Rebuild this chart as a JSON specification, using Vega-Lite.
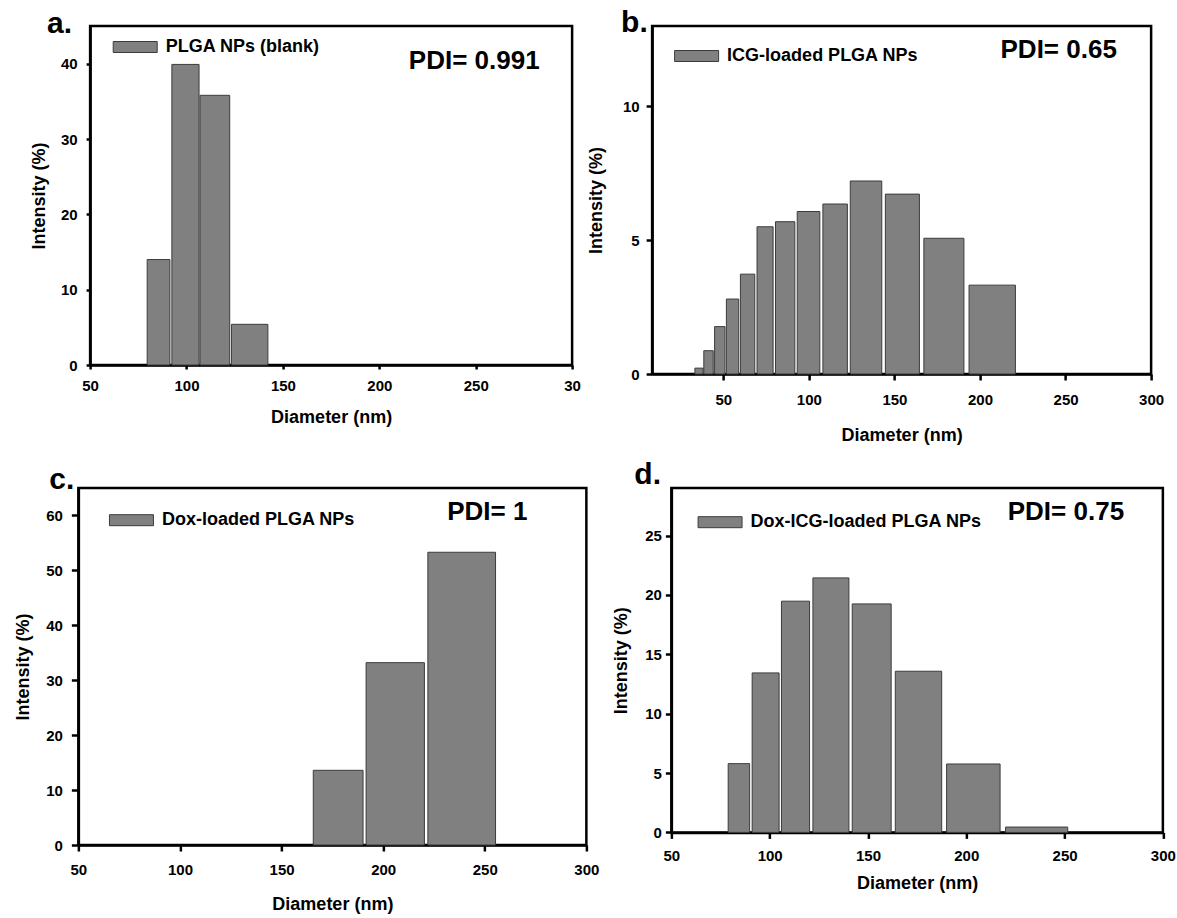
{
  "$schema": "https://vega.github.io/schema/vega-lite/v6.json",
  "background": "white",
  "padding": {"left": 13, "top": 6, "right": 3, "bottom": 3},
  "config": {
    "font": "Liberation Sans",
    "view": {"stroke": "black", "strokeWidth": 2.5},
    "axis": {
      "grid": false, "domainColor": "black", "domainWidth": 2.5,
      "tickColor": "black", "tickWidth": 2.5,
      "labelFont": "Liberation Sans", "labelFontSize": 15, "labelFontWeight": "bold", "labelColor": "black",
      "labelFlush": false, "labelOverlap": false,
      "titleFont": "Liberation Sans", "titleFontSize": 18, "titleFontWeight": "bold", "titleColor": "black"
    },
    "legend": {
      "symbolType": "M-1,-0.25H1V0.25H-1Z", "symbolSize": 1936,
      "symbolStrokeColor": "#3c3c3c", "symbolStrokeWidth": 1, "symbolOpacity": 1,
      "labelFont": "Liberation Sans", "labelFontSize": 18, "labelFontWeight": "bold", "labelColor": "black",
      "labelOffset": 8, "padding": 0, "labelLimit": 400
    },
    "title": {"font": "Liberation Sans", "fontSize": 30, "fontWeight": "bold", "color": "black", "anchor": "start", "frame": "group", "baseline": "alphabetic"}
  },
  "datasets": {
    "a": [
      {"from": 79.6, "to": 91.4, "intensity": 14.0, "sample": "PLGA NPs (blank)"},
      {"from": 92.4, "to": 106.5, "intensity": 39.9, "sample": "PLGA NPs (blank)"},
      {"from": 107.0, "to": 122.4, "intensity": 35.8, "sample": "PLGA NPs (blank)"},
      {"from": 123.3, "to": 142.2, "intensity": 5.4, "sample": "PLGA NPs (blank)"}
    ],
    "b": [
      {"from": 33.4, "to": 38.2, "intensity": 0.22, "sample": "ICG-loaded PLGA NPs"},
      {"from": 38.6, "to": 44.1, "intensity": 0.87, "sample": "ICG-loaded PLGA NPs"},
      {"from": 44.9, "to": 51.0, "intensity": 1.77, "sample": "ICG-loaded PLGA NPs"},
      {"from": 51.8, "to": 59.0, "intensity": 2.8, "sample": "ICG-loaded PLGA NPs"},
      {"from": 60.0, "to": 68.4, "intensity": 3.73, "sample": "ICG-loaded PLGA NPs"},
      {"from": 69.7, "to": 79.1, "intensity": 5.5, "sample": "ICG-loaded PLGA NPs"},
      {"from": 80.5, "to": 91.8, "intensity": 5.69, "sample": "ICG-loaded PLGA NPs"},
      {"from": 93.2, "to": 106.4, "intensity": 6.07, "sample": "ICG-loaded PLGA NPs"},
      {"from": 108.2, "to": 122.5, "intensity": 6.35, "sample": "ICG-loaded PLGA NPs"},
      {"from": 124.2, "to": 142.6, "intensity": 7.21, "sample": "ICG-loaded PLGA NPs"},
      {"from": 144.7, "to": 164.6, "intensity": 6.72, "sample": "ICG-loaded PLGA NPs"},
      {"from": 167.2, "to": 190.6, "intensity": 5.07, "sample": "ICG-loaded PLGA NPs"},
      {"from": 193.6, "to": 220.7, "intensity": 3.32, "sample": "ICG-loaded PLGA NPs"}
    ],
    "c": [
      {"from": 165.6, "to": 190.1, "intensity": 13.6, "sample": "Dox-loaded PLGA NPs"},
      {"from": 191.6, "to": 220.3, "intensity": 33.2, "sample": "Dox-loaded PLGA NPs"},
      {"from": 222.0, "to": 255.3, "intensity": 53.3, "sample": "Dox-loaded PLGA NPs"}
    ],
    "d": [
      {"from": 78.9, "to": 89.8, "intensity": 5.79, "sample": "Dox-ICG-loaded PLGA NPs"},
      {"from": 91.1, "to": 104.8, "intensity": 13.43, "sample": "Dox-ICG-loaded PLGA NPs"},
      {"from": 106.0, "to": 120.3, "intensity": 19.47, "sample": "Dox-ICG-loaded PLGA NPs"},
      {"from": 122.0, "to": 140.3, "intensity": 21.43, "sample": "Dox-ICG-loaded PLGA NPs"},
      {"from": 142.0, "to": 161.8, "intensity": 19.24, "sample": "Dox-ICG-loaded PLGA NPs"},
      {"from": 163.9, "to": 187.5, "intensity": 13.57, "sample": "Dox-ICG-loaded PLGA NPs"},
      {"from": 190.0, "to": 217.2, "intensity": 5.76, "sample": "Dox-ICG-loaded PLGA NPs"},
      {"from": 220.0, "to": 251.6, "intensity": 0.45, "sample": "Dox-ICG-loaded PLGA NPs"}
    ]
  },
  "spacing": 13,
  "center": true,
  "resolve": {"scale": {"fill": "independent"}, "legend": {"fill": "independent"}},
  "vconcat": [
    {
      "spacing": 4,
      "resolve": {"scale": {"fill": "independent"}, "legend": {"fill": "independent"}},
      "hconcat": [
        {
          "width": 482, "height": 339,
          "title": {"text": "a.", "offset": -14, "dx": -43},
          "layer": [
            {
              "data": {"name": "a"},
              "mark": {"type": "rect", "stroke": "#3c3c3c", "strokeWidth": 1, "opacity": 1},
              "encoding": {
                "x": {"field": "from", "type": "quantitative", "scale": {"domain": [50, 300], "nice": false, "zero": false},
                      "axis": {"values": [50, 100, 150, 200, 250, 300], "title": "Diameter (nm)", "tickSize": 4, "labelPadding": 9, "titlePadding": 15,
                               "labelExpr": "datum.value == 300 ? '30' : datum.label"}},
                "x2": {"field": "to"},
                "y": {"field": "intensity", "type": "quantitative", "scale": {"domain": [0, 45], "nice": false},
                      "axis": {"values": [0, 10, 20, 30, 40], "title": "Intensity (%)", "tickSize": 4, "labelPadding": 9, "titlePadding": 12}},
                "y2": {"datum": 0},
                "fill": {"field": "sample", "type": "nominal", "scale": {"range": ["#808080"]},
                         "legend": {"title": null, "orient": "none", "legendX": 22.6, "legendY": -1.5}}
              }
            },
            {
              "data": {"values": [{"pdi": "PDI= 0.991"}]},
              "mark": {"type": "text", "align": "left", "baseline": "alphabetic", "fontSize": 26, "fontWeight": "bold", "font": "Liberation Sans", "color": "black"},
              "encoding": {
                "x": {"datum": 215.3, "type": "quantitative"},
                "y": {"datum": 39.3, "type": "quantitative"},
                "text": {"field": "pdi"}
              }
            }
          ]
        },
        {
          "width": 499, "height": 348,
          "title": {"text": "b.", "offset": -11.75, "dx": -31},
          "layer": [
            {
              "data": {"name": "b"},
              "mark": {"type": "rect", "stroke": "#3c3c3c", "strokeWidth": 1, "opacity": 1},
              "encoding": {
                "x": {"field": "from", "type": "quantitative", "scale": {"domain": [8.4, 300], "nice": false, "zero": false},
                      "axis": {"values": [50, 100, 150, 200, 250, 300], "title": "Diameter (nm)", "tickSize": 6, "labelPadding": 12, "titlePadding": 19}},
                "x2": {"field": "to"},
                "y": {"field": "intensity", "type": "quantitative", "scale": {"domain": [0, 13], "nice": false},
                      "axis": {"values": [0, 5, 10], "title": "Intensity (%)", "tickSize": 6, "labelPadding": 7, "titlePadding": 17}},
                "y2": {"datum": 0},
                "fill": {"field": "sample", "type": "nominal", "scale": {"range": ["#808080"]},
                         "legend": {"title": null, "orient": "none", "legendX": 22, "legendY": 7.5}}
              }
            },
            {
              "data": {"values": [{"pdi": "PDI= 0.65"}]},
              "mark": {"type": "text", "align": "left", "baseline": "alphabetic", "fontSize": 26, "fontWeight": "bold", "font": "Liberation Sans", "color": "black"},
              "encoding": {
                "x": {"datum": 212, "type": "quantitative"},
                "y": {"datum": 11.81, "type": "quantitative"},
                "text": {"field": "pdi"}
              }
            }
          ]
        }
      ]
    },
    {
      "spacing": 11,
      "resolve": {"scale": {"fill": "independent"}, "legend": {"fill": "independent"}},
      "hconcat": [
        {
          "width": 508, "height": 357,
          "title": {"text": "c.", "offset": -7.25, "dx": -29},
          "layer": [
            {
              "data": {"name": "c"},
              "mark": {"type": "rect", "stroke": "#3c3c3c", "strokeWidth": 1, "opacity": 1},
              "encoding": {
                "x": {"field": "from", "type": "quantitative", "scale": {"domain": [50, 300], "nice": false, "zero": false},
                      "axis": {"values": [50, 100, 150, 200, 250, 300], "title": "Diameter (nm)", "tickSize": 6, "labelPadding": 11, "titlePadding": 18}},
                "x2": {"field": "to"},
                "y": {"field": "intensity", "type": "quantitative", "scale": {"domain": [0, 65], "nice": false},
                      "axis": {"values": [0, 10, 20, 30, 40, 50, 60], "title": "Intensity (%)", "tickSize": 7, "labelPadding": 9, "titlePadding": 13}},
                "y2": {"datum": 0},
                "fill": {"field": "sample", "type": "nominal", "scale": {"range": ["#808080"]},
                         "legend": {"title": null, "orient": "none", "legendX": 30.6, "legendY": 9.7}}
              }
            },
            {
              "data": {"values": [{"pdi": "PDI= 1"}]},
              "mark": {"type": "text", "align": "left", "baseline": "alphabetic", "fontSize": 26, "fontWeight": "bold", "font": "Liberation Sans", "color": "black"},
              "encoding": {
                "x": {"datum": 231.5, "type": "quantitative"},
                "y": {"datum": 59.2, "type": "quantitative"},
                "text": {"field": "pdi"}
              }
            }
          ]
        },
        {
          "width": 491.5, "height": 344.4,
          "title": {"text": "d.", "offset": -2.25, "dx": -37},
          "layer": [
            {
              "data": {"name": "d"},
              "mark": {"type": "rect", "stroke": "#3c3c3c", "strokeWidth": 1, "opacity": 1},
              "encoding": {
                "x": {"field": "from", "type": "quantitative", "scale": {"domain": [50, 300], "nice": false, "zero": false},
                      "axis": {"values": [50, 100, 150, 200, 250, 300], "title": "Diameter (nm)", "tickSize": 6, "labelPadding": 10, "titlePadding": 11}},
                "x2": {"field": "to"},
                "y": {"field": "intensity", "type": "quantitative", "scale": {"domain": [0, 29], "nice": false},
                      "axis": {"values": [0, 5, 10, 15, 20, 25], "title": "Intensity (%)", "tickSize": 6, "labelPadding": 4, "titlePadding": 14}},
                "y2": {"datum": 0},
                "fill": {"field": "sample", "type": "nominal", "scale": {"range": ["#808080"]},
                         "legend": {"title": null, "orient": "none", "legendX": 26.2, "legendY": 11.7}}
              }
            },
            {
              "data": {"values": [{"pdi": "PDI= 0.75"}]},
              "mark": {"type": "text", "align": "left", "baseline": "alphabetic", "fontSize": 26, "fontWeight": "bold", "font": "Liberation Sans", "color": "black"},
              "encoding": {
                "x": {"datum": 221.1, "type": "quantitative"},
                "y": {"datum": 26.3, "type": "quantitative"},
                "text": {"field": "pdi"}
              }
            }
          ]
        }
      ]
    }
  ]
}
